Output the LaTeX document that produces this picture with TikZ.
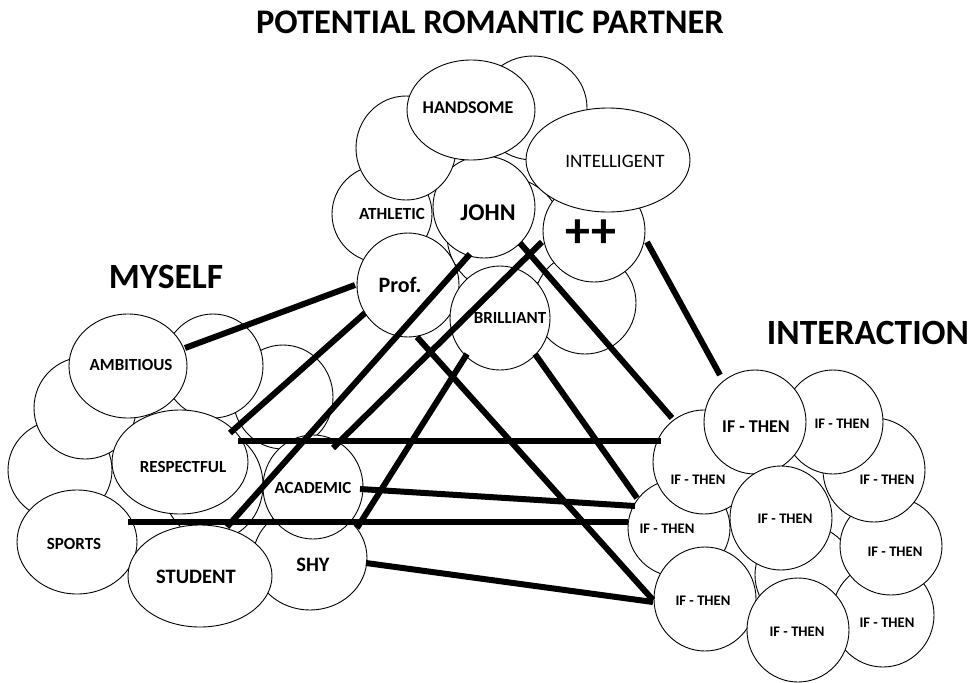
\documentclass[tikz,border=0pt]{standalone}
\usepackage{fontspec}
\setmainfont{Carlito}
\usetikzlibrary{shapes.geometric,calc}
\newcommand{\fsz}[1]{\fontsize{#1}{#1}\selectfont}
\tikzset{
  bubble/.style={draw=black, line width=0.9pt, fill=white, ellipse, inner sep=0pt, outer sep=0pt},
  bsize/.style 2 args={minimum width=#1pt, minimum height=#2pt},
  word/.style={inner sep=0pt, font=\bfseries\fsz{#1}},
  heading/.style={inner sep=0pt, font=\bfseries\fsz{#1}},
  link/.style={line width=6pt, line cap=butt},
}
\begin{document}
\begin{tikzpicture}[x=1pt,y=-1pt]
\useasboundingbox (0,0) rectangle (975,683);

% headings
\node[heading=34.5] (tPartner) at (490,22) {POTENTIAL ROMANTIC PARTNER};
\node[heading=35.5] (tMyself) at (166,277) {MYSELF};
\node[heading=35.5] (tInter) at (868,333) {INTERACTION};

% ---- partner cluster (back to front)
\node[bubble, bsize={116}{116}] (pHid) at (505,235) {};
\node[bubble, bsize={102}{102}] (pLowR) at (585,303) {};
\node[bubble, bsize={102}{102}] (pPlus) at (594,231) {};
\node[bubble, bsize={108}{104}] (pTopR) at (533,108) {};
\node[bubble, bsize={164}{104}] (pIntel) at (608,160) {};
\node[bubble, bsize={100}{98}] (pAthl) at (382,214) {};
\node[bubble, bsize={102}{102}] (pJohn) at (484,207) {};
\node[bubble, bsize={100}{104}] (pTopL) at (406,148) {};
\node[bubble, bsize={128}{100}] (pHand) at (471,110) {};
\node[bubble, bsize={102}{104}] (pProf) at (408,285) {};
\node[bubble, bsize={100}{104}] (pBril) at (500,318) {};

% ---- myself cluster
\node[bubble, bsize={100}{110}] (mHid) at (213,485) {};
\node[bubble, bsize={104}{100}] (mFarL) at (60,470) {};
\node[bubble, bsize={102}{102}] (mLeft) at (85,408) {};
\node[bubble, bsize={100}{104}] (mBackR) at (283,397) {};
\node[bubble, bsize={100}{104}] (mBackM) at (213,366) {};
\node[bubble, bsize={118}{104}] (mAmb) at (128,366) {};
\node[bubble, bsize={136}{104}] (mResp) at (180,462) {};
\node[bubble, bsize={120}{104}] (mSports) at (77,542) {};
\node[bubble, bsize={114}{104}] (mShy) at (310,558) {};
\node[bubble, bsize={100}{104}] (mAcad) at (313,487) {};
\node[bubble, bsize={144}{102}] (mStudent) at (200,576) {};

% ---- interaction cluster
\node[bubble, bsize={104}{104}] (iHidA) at (810,498) {};
\node[bubble, bsize={100}{100}] (iHidB) at (805,575) {};
\node[bubble, bsize={102}{104}] (iBotR) at (883,615) {};
\node[bubble, bsize={102}{98}] (iLowR) at (891,546) {};
\node[bubble, bsize={102}{104}] (iRight) at (874,470) {};
\node[bubble, bsize={100}{104}] (iTopR) at (833,422) {};
\node[bubble, bsize={102}{98}] (iMidL) at (679,528) {};
\node[bubble, bsize={102}{104}] (iLeft) at (704,462) {};
\node[bubble, bsize={102}{104}] (iMain) at (755,422) {};
\node[bubble, bsize={102}{104}] (iMid) at (781,518) {};
\node[bubble, bsize={102}{104}] (iLowL) at (705,599) {};
\node[bubble, bsize={102}{104}] (iBotM) at (798,630) {};

% ---- words
\node[word=18] (wHand) at (468,108) {HANDSOME};
\node[inner sep=0pt, font=\fsz{19}] (wIntel) at (615,161) {INTELLIGENT};
\node[word=17] (wAthl) at (392,214) {ATHLETIC};
\node[word=24] (wJohn) at (488,213) {JOHN};
\node[word=50] (wPlus) at (591,234) {++};
\node[word=22] (wProf) at (400,285) {Prof.};
\node[word=17] (wBril) at (510,318) {BRILLIANT};

\node[word=17] (wAmb) at (131,365) {AMBITIOUS};
\node[word=17] (wResp) at (183,467) {RESPECTFUL};
\node[word=17] (wAcad) at (313,488) {ACADEMIC};
\node[word=17] (wSports) at (74,544) {SPORTS};
\node[word=20.5] (wStudent) at (196,577) {STUDENT};
\node[word=20.5] (wShy) at (313,565) {SHY};

\node[word=18] (wMain) at (756,427) {IF - THEN};
\node[word=14.6] (wTopR) at (842,424) {IF - THEN};
\node[word=14.6] (wRight) at (887,480) {IF - THEN};
\node[word=14.6] (wLeft) at (698,480) {IF - THEN};
\node[word=14.6] (wMid) at (785,519) {IF - THEN};
\node[word=14.6] (wMidL) at (667,529) {IF - THEN};
\node[word=14.6] (wLowR) at (895,552) {IF - THEN};
\node[word=14.6] (wLowL) at (703,601) {IF - THEN};
\node[word=14.6] (wBotM) at (797,632) {IF - THEN};
\node[word=14.6] (wBotR) at (887,623) {IF - THEN};

% ---- connections
\draw[link] ($(mAmb)+(57,-18)$) -- ($(pProf)+(-53,0)$);
\draw[link] ($(pProf)+(-43,28)$) -- ($(mResp)+(50,-29)$);
\draw[link] ($(pJohn)+(-14,47)$) -- ($(mStudent)+(27,-49)$);
\draw[link] ($(pPlus)+(-52,11)$) -- ($(mAcad)+(20,-39)$);
\draw[link] ($(pJohn)+(36,36)$) -- ($(iLeft)+(-32,-44)$);
\draw[link] ($(pPlus)+(53,11)$) -- ($(iMain)+(-35,-47)$);
\draw[link] ($(pProf)+(9,52)$) -- ($(iLowL)+(-52,1)$);
\draw[link] ($(pBril)+(-33,36)$) -- ($(mShy)+(47,-30)$);
\draw[link] ($(pBril)+(35,36)$) -- ($(iMidL)+(-42,-30)$);
\draw[link] ($(mResp)+(58,-21)$) -- ($(iLeft)+(-43,-21)$);
\draw[link] ($(mAcad)+(47,2)$) -- ($(iMidL)+(-44,-22)$);
\draw[link] ($(mSports)+(51,-20)$) -- ($(iMidL)+(-51,-6)$);
\draw[link] ($(mShy)+(56,5)$) -- ($(iLowL)+(-52,3)$);
\end{tikzpicture}
\end{document}
